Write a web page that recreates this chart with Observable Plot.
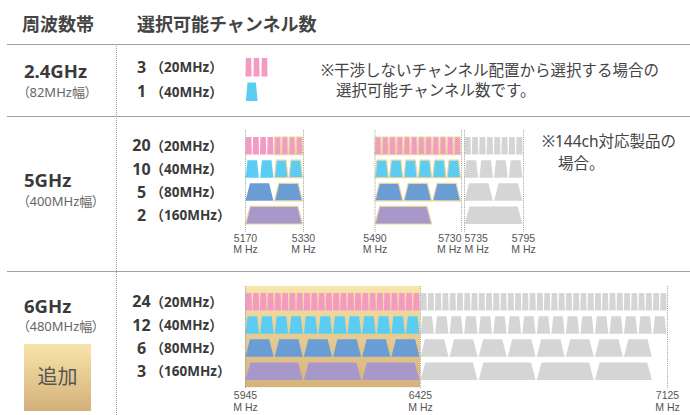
<!DOCTYPE html>
<html><head><meta charset="utf-8">
<script src="https://cdn.jsdelivr.net/npm/d3@7"></script>
<script src="https://cdn.jsdelivr.net/npm/@observablehq/plot@0.6"></script>
<style>
body{margin:0;background:#fff}
#wrap{position:relative;width:690px;height:415px;overflow:hidden;background:#fff;font-family:'Noto Sans','Noto Sans CJK JP',sans-serif;color:#3c3c3c}
.t{position:absolute;white-space:nowrap;line-height:1}
.hl{position:absolute;left:7px;right:0;height:0;border-top:1.5px solid #a0a0a0}
.vl{position:absolute;left:116px;top:46px;bottom:0;border-left:1px dotted #9a9a9a}
.plot{position:absolute;left:0}
.box{position:absolute;left:24px;top:344px;width:67px;height:67px;background:linear-gradient(#f8e4a9,#d3b07a)}
</style></head>
<body><div id="wrap"></div>
<script>
// ---------- data ----------
const headers = ["周波数帯", "選択可能チャンネル数"];
const bandNames = ["2.4GHz", "5GHz", "6GHz"];
const bandSpans = ["（82MHz幅）", "（400MHz幅）", "（480MHz幅）"];
const addedLabel = "追加";
const widths = ["20MHz", "40MHz", "80MHz", "160MHz"];
const counts24 = [3, 1];
const counts5 = [20, 10, 5, 2];
const counts6 = [24, 12, 6, 3];
// 2.4GHz non-overlapping channels [start, end] MHz
const ch24_20 = [[2401, 2423], [2426, 2448], [2451, 2473]];
const ch24_40 = [[2402, 2442]];
// 5GHz segments: span, number of 20MHz slots, channels per width row
const seg5 = [
  {start: 5170, end: 5330, slots: 8, channels: [8, 4, 2, 1], dfsFrom: 5250, active: true},
  {start: 5490, end: 5730, slots: 12, channels: [12, 6, 3, 1], dfsFrom: 5490, active: true},
  {start: 5735, end: 5795, slots: 8, channels: [8, 4, 2, 1], dfsFrom: null, active: false}
];
const seg6 = [
  {start: 5945, end: 6425, slots: 24, channels: [24, 12, 6, 3], dfsFrom: null, active: true},
  {start: 6425, end: 7125, slots: 34, channels: [34, 17, 8, 4], dfsFrom: null, active: false}
];
const ticks5 = [5170, 5330, 5490, 5730, 5735, 5795];
const ticks6 = [5945, 6425, 7125];
const unitLabel = "M Hz";
const notes24 = ["※干渉しないチャンネル配置から選択する場合の", "選択可能チャンネル数です。"];
const notes5 = ["※144ch対応製品の", "場合。"];

// ---------- style ----------
const rowColors = ["#f39bc2", "#5ccdf2", "#6a9dd3", "#a898ca"];
const GRAY = "#d5d5d5";
const DFS = "#e8d49c";
const FONT = "'Noto Sans','Noto Sans CJK JP',sans-serif";
const TICKFONT = "'Liberation Sans','Noto Sans',sans-serif";
const H = 0.76;
const insetTop = [0.12, 0.17, 0.17, 0.09];
const insetBot = [0.06, 0.04, 0.02, 0.01];

const wrap = document.getElementById("wrap");
function addText(str, x, y, o = {}) {
  const d = document.createElement("div");
  d.className = "t";
  d.textContent = str;
  const size = o.size || 14;
  d.style.fontSize = size + "px";
  d.style.fontWeight = o.weight || 400;
  d.style.color = o.color || "#3c3c3c";
  if (o.palt) d.style.fontFeatureSettings = '"palt"';
  d.style.left = x + "px";
  d.style.top = (y - 0.06 * size) + "px";
  d.style.transform = o.center ? "translate(-50%,-50%)" : "translate(0,-50%)";
  wrap.appendChild(d);
  return d;
}
function addDiv(cls, css) {
  const d = document.createElement("div");
  d.className = cls;
  Object.assign(d.style, css || {});
  wrap.appendChild(d);
}

function segChannels(segs) {
  const out = [];
  segs.forEach(s => {
    const slot = (s.end - s.start) / s.slots;
    s.channels.forEach((n, r) => {
      const m = 2 ** r;
      for (let k = 0; k < n; k++) {
        const a = s.start + k * m * slot, b = a + m * slot;
        out.push({r, a, b, color: s.active ? rowColors[r] : GRAY, dfs: s.dfsFrom != null && b > s.dfsFrom});
      }
    });
  });
  return out;
}
function toPoints(chs) {
  return chs.flatMap((c, i) => {
    const w = c.b - c.a;
    return [
      {id: i, y: c.r, x1: c.a + insetTop[c.r] * w, x2: c.b - insetTop[c.r] * w, fill: c.color, dfs: c.dfs},
      {id: i, y: c.r + H, x1: c.a + insetBot[c.r] * w, x2: c.b - insetBot[c.r] * w, fill: c.color, dfs: c.dfs}
    ];
  });
}
function labelMarks(counts) {
  const rows = counts.map((c, i) => ({r: i, count: c, width: widths[i]}));
  return [
    Plot.text(rows, {frameAnchor: "left", y: d => d.r + H / 2, text: d => String(d.count), dx: 141, textAnchor: "middle", fontSize: 16, fontWeight: 700, fill: "#3a3a3a", fontFamily: FONT}),
    Plot.text(rows, {frameAnchor: "left", y: d => d.r + H / 2, text: d => "（" + d.width + "）", dx: 150, textAnchor: "start", fontSize: 13.5, fontWeight: 700, fill: "#3a3a3a", fontFamily: FONT})
  ];
}
function tickMarks(ticks, dy, anchorOf) {
  return ["start", "middle", "end"].flatMap(a => {
    const tk = ticks.filter(t => anchorOf(t) === a);
    const common = {x: d => d, frameAnchor: "bottom", textAnchor: a, fontSize: 10.5, fill: "#555", fontFamily: TICKFONT};
    return [
      Plot.text(tk, {...common, text: d => String(d), dy}),
      Plot.text(tk, {...common, text: () => unitLabel, dy: dy + 11.8})
    ];
  });
}
function bandPlot({chs, counts, xDomain, xRange, height, mt, mb, rules, extra = [], ticks = [], tickDy = 0, anchorOf = () => "middle", defs}) {
  const pts = toPoints(chs);
  const svg = Plot.plot({
    width: 690, height, marginTop: mt, marginBottom: mb, marginLeft: 0, marginRight: 0,
    x: {type: "linear", domain: xDomain, range: xRange, axis: null},
    y: {domain: [0, counts.length - 1 + H], reverse: true, axis: null},
    color: {type: "identity"},
    style: {background: "transparent", overflow: "visible", fontFamily: FONT},
    marks: [
      ...extra,
      Plot.areaX(pts, {x1: "x1", x2: "x2", y: "y", z: "id", fill: "fill"}),
      Plot.areaX(pts.filter(d => d.dfs), {x1: "x1", x2: "x2", y: "y", z: "id", fill: "none", stroke: DFS, strokeWidth: 1.2}),
      ...(rules ? [Plot.ruleX(rules, {x: d => d, y1: -0.3, y2: 4.11, stroke: "#999", strokeDasharray: "1,1.2", strokeWidth: 1})] : []),
      ...labelMarks(counts),
      ...tickMarks(ticks, tickDy, anchorOf)
    ]
  });
  if (defs) defs(svg);
  return svg;
}
function place(svg, top) {
  svg.classList.add("plot");
  svg.style.position = "absolute";
  svg.style.left = "0px";
  svg.style.top = top + "px";
  wrap.appendChild(svg);
}

// ---------- plots ----------
const chs24 = [
  ...ch24_20.map(([a, b]) => ({r: 0, a, b, color: rowColors[0], dfs: false})),
  ...ch24_40.map(([a, b]) => ({r: 1, a, b, color: rowColors[1], dfs: false}))
];
place(bandPlot({chs: chs24, counts: counts24, xDomain: [2401, 2473], xRange: [245, 268], height: 72, mt: 13, mb: 16}), 45);

place(bandPlot({
  chs: segChannels(seg5), counts: counts5,
  xDomain: ticks5, xRange: [245, 303, 374.5, 461, 464, 523],
  height: 155, mt: 20, mb: 48, rules: ticks5, ticks: ticks5, tickDy: 17,
  anchorOf: t => t === 5730 ? "end" : t === 5735 ? "start" : "middle"
}), 117);

place(bandPlot({
  chs: segChannels(seg6), counts: counts6,
  xDomain: ticks6, xRange: [245, 420, 667],
  height: 143, mt: 21, mb: 35, rules: ticks6, ticks: ticks6, tickDy: 18.5,
  extra: [Plot.rect(seg6.filter(s => s.active), {x1: "start", x2: "end", y1: -0.3, y2: 4.07, fill: "url(#g6)"})],
  defs: svg => {
    const g = d3.select(svg).insert("defs", ":first-child").append("linearGradient")
      .attr("id", "g6").attr("x1", 0).attr("y1", 0).attr("x2", 0).attr("y2", 1);
    g.append("stop").attr("offset", 0).attr("stop-color", "#f7e5aa");
    g.append("stop").attr("offset", 1).attr("stop-color", "#d5b27b");
  }
}), 272);

// ---------- frame & text ----------
addDiv("hl", {top: "44px"});
addDiv("hl", {top: "116px"});
addDiv("hl", {top: "271px"});
addDiv("vl");
addDiv("box");

addText(headers[0], 22, 25, {size: 18, weight: 700, color: "#444"});
addText(headers[1], 137, 25, {size: 18, weight: 700, color: "#444"});

const bandY = [[72, 93], [181, 202], [307, 327]];
bandNames.forEach((n, i) => {
  addText(n, 24, bandY[i][0], {size: 18.5, weight: 700, color: "#3a3a3a"});
  addText(bandSpans[i], 23, bandY[i][1], {size: 13, color: "#666", palt: true});
});
addText(addedLabel, 57.5, 378, {size: 20, color: "#555", center: true});

addText(notes24[0], 321, 72, {size: 15.5, color: "#444"});
addText(notes24[1], 336, 92, {size: 15.5, color: "#444"});
addText(notes5[0], 542, 143, {size: 15.5, color: "#444"});
addText(notes5[1], 558, 165, {size: 15.5, color: "#444"});
</script></body></html>
